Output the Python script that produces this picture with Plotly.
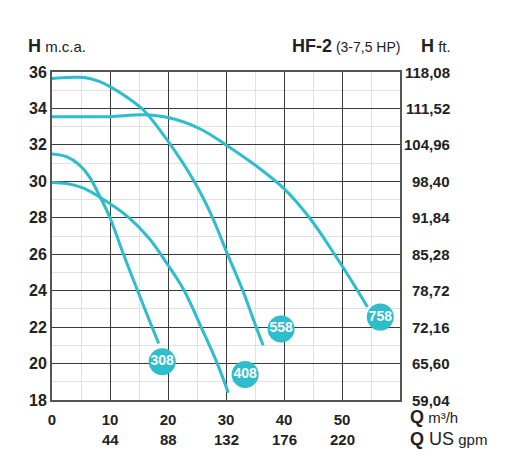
import plotly.graph_objects as go

# curves: flow Q (m3/h) vs head H (m.c.a.)
q_308 = [0, 2.5, 4.7, 6.4, 8.2, 10, 12.2, 15, 17, 18.4]
h_308 = [31.5, 31.35, 30.9, 30.27, 29.2, 28.0, 26.1, 23.8, 22.2, 21.1]

q_408 = [0, 2.5, 5.3, 8.4, 13.3, 16.8, 19.9, 22.8, 26.0, 28.5, 30.4]
h_408 = [29.94, 29.88, 29.64, 29.1, 28.0, 26.85, 25.45, 24.0, 21.8, 20.0, 18.4]

q_558 = [0, 3, 5.5, 8, 10, 13, 15.8, 20, 24.5, 27.7, 30, 32.9, 35.2, 36.4]
h_558 = [35.65, 35.7, 35.7, 35.5, 35.2, 34.6, 33.9, 32.2, 30.0, 28.0, 26.2, 24.0, 22.0, 21.0]

q_758 = [0, 5, 10, 15.8, 20, 25.4, 30, 35.2, 40, 44.4, 48.7, 52.7, 54.4]
h_758 = [33.55, 33.55, 33.55, 33.65, 33.5, 32.9, 32.0, 30.85, 29.6, 28.0, 26.0, 24.0, 23.1]

models = ["308", "408", "558", "758"]
label_q = [19.0, 33.3, 39.5, 56.6]
label_h = [20.1, 19.4, 21.9, 22.55]

h_ticks = [18, 20, 22, 24, 26, 28, 30, 32, 34, 36]
ft_labels = ["59,04", "65,60", "72,16", "78,72", "85,28", "91,84",
             "98,40", "104,96", "111,52", "118,08"]
q_ticks = [0, 10, 20, 30, 40, 50]
gpm_labels = ["44", "88", "132", "176", "220"]

teal = "#2dbdcc"
ink = "#222"
font = "Liberation Sans"


def big(t, size=18):
    return f"<b><span style='font-size:{size}px'>{t}</span></b>"


def small(t, size=15):
    return f"<span style='font-size:{size}px'>{t}</span>"


fig = go.Figure()

for q, h in [(q_308, h_308), (q_408, h_408), (q_558, h_558), (q_758, h_758)]:
    fig.add_trace(go.Scatter(
        x=q, y=h, mode="lines",
        line=dict(color=teal, width=3, shape="spline", smoothing=1),
        hoverinfo="skip"
    ))

fig.add_trace(go.Scatter(
    x=label_q, y=label_h, mode="markers+text",
    text=models, textposition="middle center",
    textfont=dict(color="white", size=14, family=font, weight="bold"),
    marker=dict(color=teal, size=27),
    cliponaxis=False
))

annotations = []
# right axis in feet
for h, t in zip(h_ticks, ft_labels):
    annotations.append(dict(
        x=1, xref="paper", y=h, yref="y", text=t, showarrow=False,
        xanchor="right", xshift=52,
        font=dict(size=15, family=font, weight="bold", color=ink)
    ))
# second x row in US gpm
for q, t in zip(q_ticks[1:], gpm_labels):
    annotations.append(dict(
        x=q, xref="x", y=0, yref="paper", text=t, showarrow=False,
        yanchor="middle", yshift=-39,
        font=dict(size=15, family=font, weight="bold", color=ink)
    ))

annotations += [
    dict(x=0, xref="paper", y=1, yref="paper", xanchor="left", yanchor="middle",
         xshift=-26, yshift=26, showarrow=False,
         text=big("H") + small(" m.c.a."),
         font=dict(size=15, family=font, color=ink)),
    dict(x=1, xref="paper", y=1, yref="paper", xanchor="right", yanchor="middle",
         xshift=2, yshift=26, showarrow=False,
         text=big("HF-2") + small(" (3-7,5 HP)", 14),
         font=dict(size=14, family=font, color=ink)),
    dict(x=1, xref="paper", y=1, yref="paper", xanchor="right", yanchor="middle",
         xshift=53, yshift=26, showarrow=False,
         text=big("H") + small(" ft."),
         font=dict(size=15, family=font, color=ink)),
    dict(x=1, xref="paper", y=0, yref="paper", xanchor="left", yanchor="middle",
         xshift=8, yshift=-17, showarrow=False,
         text=big("Q") + small(" m³/h"),
         font=dict(size=15, family=font, color=ink)),
    dict(x=1, xref="paper", y=0, yref="paper", xanchor="left", yanchor="middle",
         xshift=8, yshift=-39, showarrow=False,
         text=big("Q") + small(" US", 18) + small(" gpm"),
         font=dict(size=15, family=font, color=ink)),
]

fig.update_layout(
    width=512, height=472,
    margin=dict(l=44, r=120, t=64, b=80),
    paper_bgcolor="white", plot_bgcolor="white",
    showlegend=False,
    annotations=annotations,
    xaxis=dict(
        range=[0, 60], tickvals=q_ticks, ticks="",
        showgrid=True, gridcolor="#3a3a3a", gridwidth=1.3,
        minor=dict(dtick=5, showgrid=True, gridcolor="#e2e2e2", gridwidth=1),
        showline=True, linecolor="#555", linewidth=2, mirror=True,
        zeroline=False, ticklabelstandoff=5,
        tickfont=dict(size=15, family=font, weight="bold", color=ink),
    ),
    yaxis=dict(
        range=[18, 36], tickvals=h_ticks, ticks="",
        showgrid=True, gridcolor="#3a3a3a", gridwidth=1.3,
        minor=dict(dtick=1, showgrid=True, gridcolor="#e2e2e2", gridwidth=1),
        showline=True, linecolor="#555", linewidth=2, mirror=True,
        zeroline=False,
        tickfont=dict(size=16, family=font, weight="bold", color=ink),
    ),
)

fig.write_html("out.html")
